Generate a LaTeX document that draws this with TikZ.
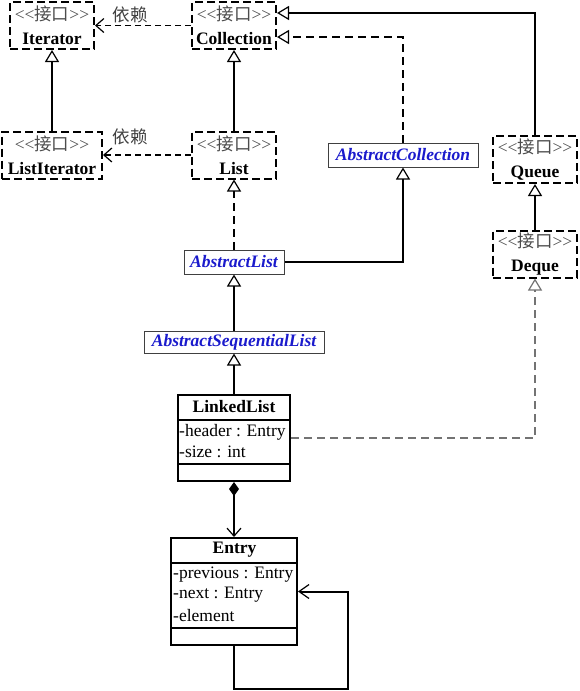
\documentclass[tikz,border=0pt]{standalone}
\usepackage{fontspec}
\setmainfont{Liberation Serif}
\newfontfamily\cjk{Noto Sans CJK SC}
\usetikzlibrary{arrows.meta}
\definecolor{absblue}{RGB}{26,26,204}
\newcommand{\ifc}[1]{{\color{black!70}<{}<{}{\cjk 接口}>{}>}\\\textbf{#1}}
\begin{document}
\begin{tikzpicture}[x=1pt,y=-1pt,
  every node/.style={font=\fontsize{17.5}{24}\selectfont, inner sep=0pt},
  iface/.style={draw, line width=2pt, dash pattern=on 8pt off 4pt, align=center, minimum width=#1, minimum height=47pt},
  absbox/.style={draw=black!75, line width=1pt, font=\fontsize{17.5}{24}\selectfont\bfseries\itshape, text=absblue, minimum height=24pt, minimum width=#1},
  clsbox/.style={draw, line width=2pt, minimum width=#1},
  attr/.style={anchor=west},
  gen/.style={line width=2pt, -{Triangle[open, length=12pt, width=14pt, fill=white, line width=1.2pt]}},
  real/.style={gen, dash pattern=on 8pt off 5pt},
  dep/.style={line width=1.6pt, dash pattern=on 6pt off 4pt, -{Straight Barb[length=8pt, width=14pt, line width=1.2pt]}},
  deplbl/.style={text=black!75, font=\fontsize{17.5}{24}\selectfont\cjk},
]
\useasboundingbox (0,0) rectangle (579,691);

% interfaces
\node[iface=84pt] (it) at (52,25.5) {\ifc{Iterator}};
\node[iface=84pt] (col) at (234,25.5) {\ifc{Collection}};
\node[iface=100pt] (lit) at (52,155) {\ifc{ListIterator}};
\node[iface=84pt] (lst) at (234,155) {\ifc{List}};
\node[iface=84pt] (q) at (535,159.5) {\ifc{Queue}};
\node[iface=84pt] (dq) at (535,254) {\ifc{Deque}};

% abstract classes
\node[absbox=150pt] (ac) at (403,155) {AbstractCollection};
\node[absbox=100pt] (al) at (234,262) {AbstractList};
\node[absbox=180pt, minimum height=22pt] (asl) at (234,342) {AbstractSequentialList};

% LinkedList
\node[clsbox=112pt, minimum height=86pt] (ll) at (234,438) {};
\node[font=\fontsize{17.5}{24}\selectfont\bfseries] (lln) at (234,407) {LinkedList};
\draw[line width=2pt] (ll.west |- 0,420) -- (ll.east |- 0,420);
\draw[line width=2pt] (ll.west |- 0,464) -- (ll.east |- 0,464);
\node[attr] (lla) at (179,432) {-header : Entry};
\node[attr] (llb) at (179,452) {-size : int};

% Entry
\node[clsbox=126pt, minimum height=107pt] (en) at (234,591.5) {};
\node[font=\fontsize{17.5}{24}\selectfont\bfseries] (enn) at (234.5,550) {Entry};
\draw[line width=2pt] (en.west |- 0,563) -- (en.east |- 0,563);
\draw[line width=2pt] (en.west |- 0,628) -- (en.east |- 0,628);
\node[attr] (ena) at (173,575) {-previous : Entry};
\node[attr] (enb) at (173,595) {-next : Entry};
\node[attr] (enc) at (173,616) {-element};

% dependencies
\draw[dep] (col.west) -- (it.east);
\draw[dep] (lst.west) -- (lit.east);
\node[deplbl] (d1) at (130,15) {依赖};
\node[deplbl] (d2) at (130,137) {依赖};

% generalizations
\draw[gen] (lit.north) -- (lit.north |- it.south);
\draw[gen] (lst.north) -- (col.south);
\draw[gen] (q.north) |- ([yshift=12.5pt]col.east);
\draw[real] (ac.north) |- ([yshift=-11.5pt]col.east);
\draw[gen] (al.east) -| (ac.south);
\draw[real] (al.north) -- (lst.south);
\draw[gen] (asl.north) -- (al.south);
\draw[gen] (ll.north) -- (asl.south);
\draw[gen] (dq.north) -- (q.south);
\draw[gen, draw=black!55, dash pattern=on 8pt off 5pt] (ll.east) -| (dq.south);

% composition
\draw[line width=2pt, {Diamond[length=14pt, width=10pt]}-{Straight Barb[length=8pt, width=14pt, line width=1.2pt]}] (ll.south) -- (en.north);

% self association
\coordinate (lp) at (348,689);
\draw[line width=2pt, -{Straight Barb[length=10pt, width=14pt, line width=1.2pt]}] (en.south) |- (lp) |- (en.east);
\end{tikzpicture}
\end{document}
